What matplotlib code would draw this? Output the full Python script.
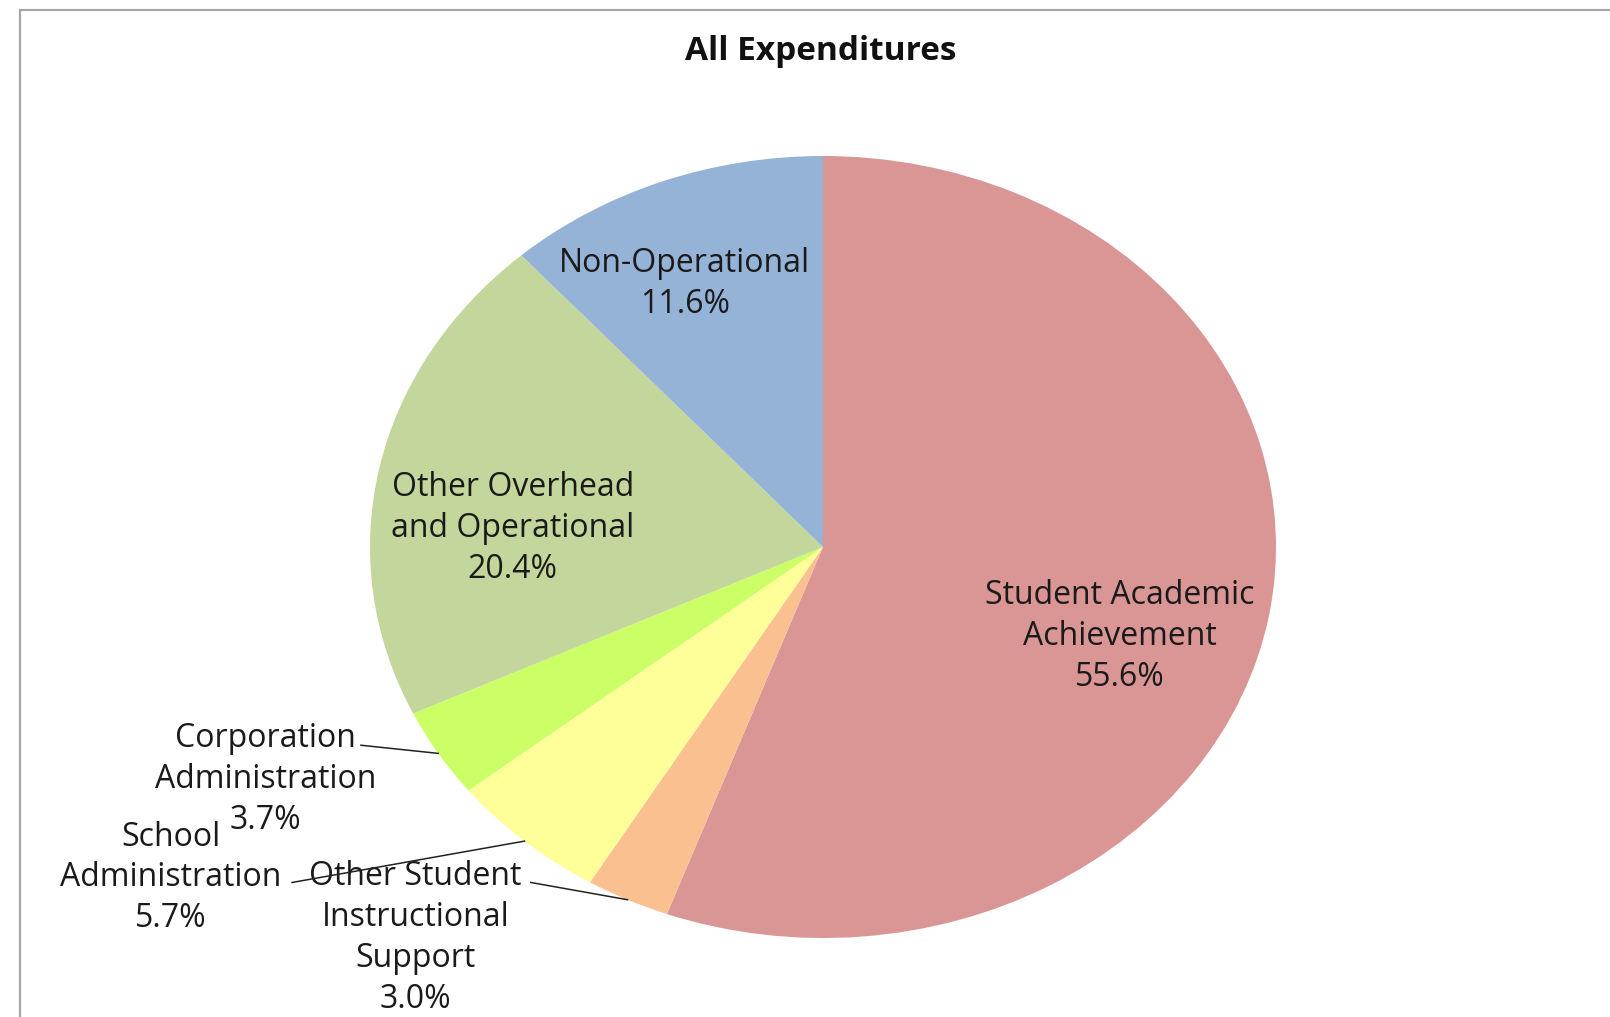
import numpy as np
import matplotlib
matplotlib.use("Agg")
import matplotlib.pyplot as plt
from matplotlib.patches import Rectangle

# ---------------------------------------------------------------------------
# DATA
# ---------------------------------------------------------------------------
labels = [
    "Student Academic\nAchievement",
    "Other Student\nInstructional\nSupport",
    "School\nAdministration",
    "Corporation\nAdministration",
    "Other Overhead\nand Operational",
    "Non-Operational",
]
shares = [55.6, 3.0, 5.7, 3.7, 20.4, 11.6]
colors = ["#D99694", "#FAC090", "#FFFF99", "#CCFF66", "#C3D69B", "#95B3D7"]

# label placement (pie units, x/y of ellipse) and whether a leader line is used
label_pos = [(0.655, -0.229), (-0.90, -1.0), (-1.44, -0.846),
             (-1.23, -0.595), (-0.685, 0.047), (-0.305, 0.672)]
leader_start = [None, (-0.645, -0.858), (-1.172, -0.858),
                (-1.02, -0.507), None, None]

plt.rcParams["font.family"] = ["Open Sans", "DejaVu Sans"]

fig = plt.figure(figsize=(16.10, 10.17), dpi=100)
W, H = 1610, 1017
cx, cy, rx, ry = 823, 547, 453, 391
ax = fig.add_axes([(cx - rx) / W, 1 - (cy + ry) / H, 2 * rx / W, 2 * ry / H])

wedges, _ = ax.pie(shares, colors=colors, startangle=90, counterclock=False,
                   radius=1.0, wedgeprops=dict(linewidth=0))
ax.set_aspect("auto")
ax.set_xlim(-1, 1)
ax.set_ylim(-1, 1)
ax.axis("off")

# labels + leader lines
for w, lab, val, pos, ls in zip(wedges, labels, shares, label_pos, leader_start):
    ax.text(pos[0], pos[1], f"{lab}\n{val:.1f}%", ha="center", va="center",
            fontsize=23, color="#1a1a1a", linespacing=1.31, clip_on=False)
    if ls is not None:
        mid = np.deg2rad((w.theta1 + w.theta2) / 2)
        ax.plot([ls[0], np.cos(mid)], [ls[1], np.sin(mid)], color="#222222",
                lw=1.1, clip_on=False, zorder=5)

fig.text(821 / W, 1 - 52 / H, "All Expenditures", ha="center", va="center",
         fontsize=24, fontweight="bold", color="#111111")

# chart-area frame (cropped at right and bottom)
fig.patches.append(Rectangle((20 / W, -0.2), 1.2, 1.2 - 10 / H,
                             transform=fig.transFigure, fill=False,
                             edgecolor="#A6A6A6", lw=1.6))

fig.savefig("out.png", dpi=100, facecolor="white")
